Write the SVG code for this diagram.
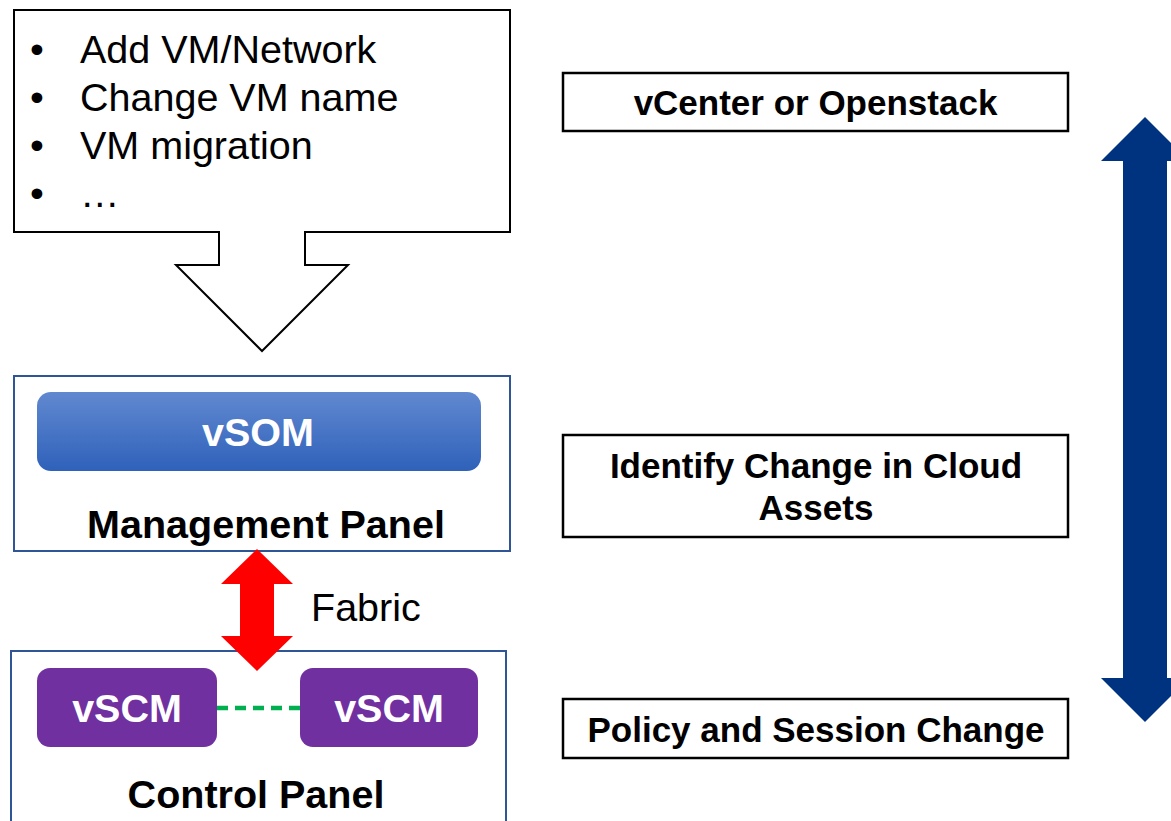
<svg xmlns="http://www.w3.org/2000/svg" width="1171" height="821" viewBox="0 0 1171 821">
<defs>
<linearGradient id="gBlue" x1="0" y1="0" x2="0" y2="1">
<stop offset="0" stop-color="#6189D0"/>
<stop offset="1" stop-color="#2F61BA"/>
</linearGradient>
</defs>
<style>
.reg{font-family:"Liberation Sans",Arial,sans-serif;font-size:39.5px;fill:#000}
.bold{font-family:"Liberation Sans",Arial,sans-serif;font-weight:bold;font-size:39.5px;fill:#000}
.rb{font-family:"Liberation Sans",Arial,sans-serif;font-weight:bold;font-size:35px;fill:#000;text-anchor:middle}
.wt{fill:#fff;text-anchor:middle}
.panel{fill:#fff;stroke:#2F5597;stroke-width:2}
.side{fill:#fff;stroke:#000;stroke-width:2.5}
.scm{fill:#7030A0}
</style>
<rect width="1171" height="821" fill="#fff"/>

<g id="changes">
<path d="M14,10 H510 V232 H305 V265 H348 L262,351 L176,265 H219 V232 H14 Z" fill="#fff" stroke="#000" stroke-width="2" stroke-linejoin="miter"/>
<text class="reg" x="30" y="63">•</text><text class="reg" x="80" y="63">Add VM/Network</text>
<text class="reg" x="30" y="111">•</text><text class="reg" x="80" y="111">Change VM name</text>
<text class="reg" x="30" y="159">•</text><text class="reg" x="80" y="159">VM migration</text>
<text class="reg" x="30" y="207">•</text><text class="reg" x="80" y="207">…</text>
</g>

<g id="management-panel">
<rect class="panel" x="14" y="376" width="496" height="175"/>
<text class="bold" x="266" y="538" text-anchor="middle">Management Panel</text>
</g>

<g id="vsom">
<rect x="37" y="392" width="444" height="79" rx="14" fill="url(#gBlue)"/>
<text class="bold wt" x="258" y="446">vSOM</text>
</g>

<g id="control-panel">
<rect class="panel" x="11" y="651" width="495" height="190"/>
<text class="bold" x="256" y="808" text-anchor="middle">Control Panel</text>
</g>

<g id="vscm-1">
<rect class="scm" x="37" y="668" width="180" height="79" rx="13"/>
<text class="bold wt" x="127" y="722">vSCM</text>
</g>

<g id="vscm-2">
<rect class="scm" x="300" y="668" width="178" height="79" rx="13"/>
<text class="bold wt" x="389" y="722">vSCM</text>
</g>

<g id="vcenter">
<rect class="side" x="563" y="73" width="505" height="58"/>
<text class="rb" x="815.5" y="115">vCenter or Openstack</text>
</g>

<g id="identify">
<rect class="side" x="563" y="435" width="505" height="102"/>
<text class="rb" x="816" y="478">Identify Change in Cloud</text>
<text class="rb" x="816" y="520">Assets</text>
</g>

<g id="policy">
<rect class="side" x="563" y="699" width="505" height="59"/>
<text class="rb" x="816" y="742">Policy and Session Change</text>
</g>

<g id="connectors">
<line x1="217" y1="708" x2="300" y2="708" stroke="#00B050" stroke-width="4.5" stroke-dasharray="11,7"/>
<polygon points="257,549 293,584 274,584 274,636 293,636 257,671 221,636 240,636 240,584 221,584" fill="#FF0000"/>
<text class="reg" x="311" y="621">Fabric</text>
<polygon points="1145,117 1189,161 1167,161 1167,678 1189,678 1145,722 1101,678 1123,678 1123,161 1101,161" fill="#00337F"/>
</g>
</svg>
